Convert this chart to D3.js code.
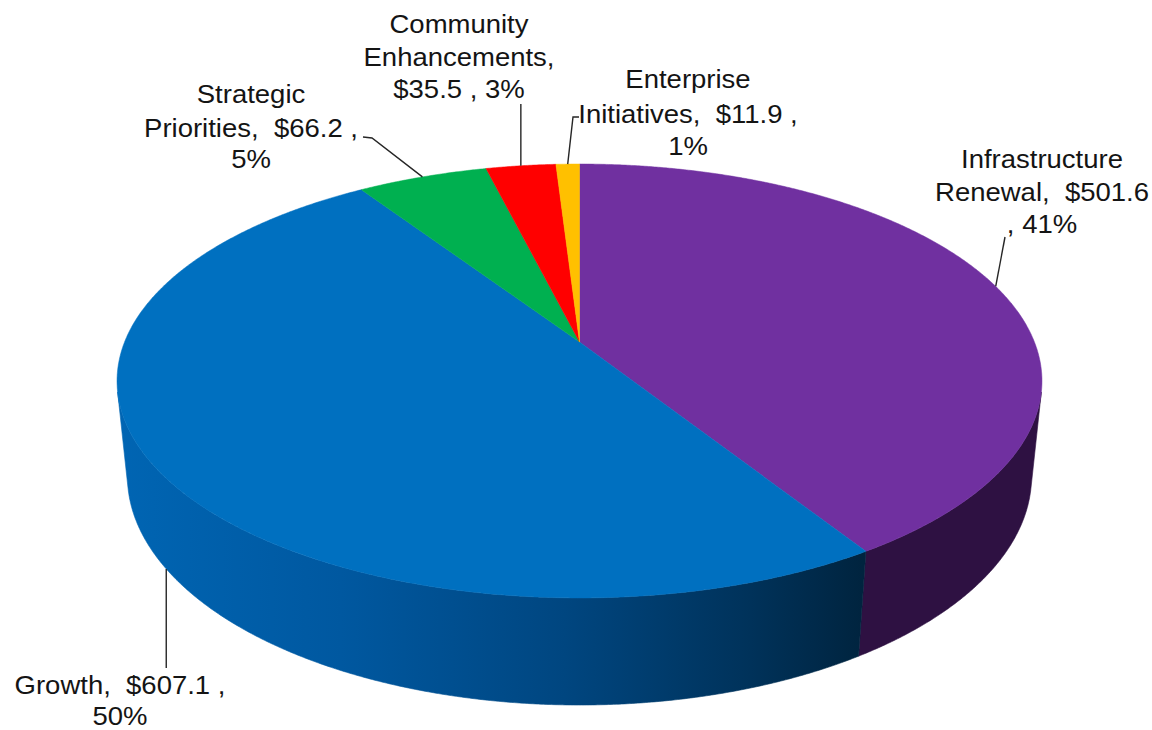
<!DOCTYPE html>
<html>
<head>
<meta charset="utf-8">
<script src="https://cdn.jsdelivr.net/npm/d3@7"></script>
<style>
  html, body { margin: 0; background: #ffffff; }
  svg { display: block; }
  text { white-space: pre; }
</style>
</head>
<body>
<svg id="chart" width="1152" height="730"></svg>
<script>
// Capital budget by program ($ millions)
const categories = ["Infrastructure Renewal", "Growth", "Strategic Priorities", "Community Enhancements", "Enterprise Initiatives"];
const values = [501.6, 607.1, 66.2, 35.5, 11.9];
const topColors = ["#7030A0", "#0070C0", "#00B050", "#FF0000", "#FFC000"];
const sideColors = ["#2E1142", "url(#growthSide)", "#00703A", "#A00000", "#A07800"];

const total = d3.sum(values);
const pct = d3.format(".0%");
const money = v => "$" + d3.format(".1f")(v);

// Label text, wrapped line by line
const labelText = [
  i => ["Infrastructure", `Renewal,  ${money(values[i])}`, `, ${pct(values[i] / total)}`],
  i => [`Growth,  ${money(values[i])} ,`, pct(values[i] / total)],
  i => ["Strategic", `Priorities,  ${money(values[i])} ,`, pct(values[i] / total)],
  i => ["Community", "Enhancements,", `${money(values[i])} , ${pct(values[i] / total)}`],
  i => ["Enterprise", `Initiatives,  ${money(values[i])} ,`, pct(values[i] / total)]
];

// Label placement: centre x, baselines, leader bend points; anchor on top rim or bottom rim
const labelLayout = [
  { cx: 1042, ys: [168, 201, 233], bends: [[1005, 237]], rim: "top" },
  { cx: 120,  ys: [694, 725],      bends: "vertical", startY: 668, rim: "bottom" },
  { cx: 251,  ys: [103, 137, 168], bends: [[363, 137], [372, 138]], rim: "top" },
  { cx: 459,  ys: [33, 65.5, 98],  bends: "vertical", startY: 104, rim: "top" },
  { cx: 688,  ys: [88, 123, 155],  bends: [[579, 117], [573, 117]], rim: "top" }
];

// Perspective camera for a tilted cylinder (unit radius, thickness h)
const cam = { cx: 579.5, cy: 342, f: 2246, D: 4.937, tilt: Math.asin(0.4615), h: 0.2376 };
const sT = Math.sin(cam.tilt), cT = Math.cos(cam.tilt);

function project(theta, yw) {
  const x = Math.sin(theta), z = -Math.cos(theta);
  const up = yw * cT - z * sT;
  const depth = cam.D - (yw * sT + z * cT);
  return [cam.cx + cam.f * x / depth, cam.cy - cam.f * up / depth];
}
function projectCenter(yw) {
  const up = yw * cT;
  const depth = cam.D - yw * sT;
  return [cam.cx, cam.cy - cam.f * up / depth];
}

const pie = d3.pie().sort(null).startAngle(0).endAngle(2 * Math.PI);
const arcs = pie(values);

const svg = d3.select("#chart");
const defs = svg.append("defs");
const grad = defs.append("linearGradient")
  .attr("id", "growthSide")
  .attr("gradientUnits", "userSpaceOnUse")
  .attr("x1", 118).attr("y1", 0).attr("x2", 862).attr("y2", 0);
[[0, "#0065B3"], [0.3, "#0058A0"], [0.6, "#004680"], [0.85, "#00325A"], [1, "#00243F"]]
  .forEach(([o, c]) => grad.append("stop").attr("offset", o).attr("stop-color", c));

const line = d3.line();
function sampleArc(a0, a1, yw) {
  const n = Math.max(2, Math.ceil((a1 - a0) / 0.005));
  return d3.range(n + 1).map(k => project(a0 + (a1 - a0) * k / n, yw));
}

// Visible part of the cylinder wall
const thetaR = Math.acos(-1 / (cam.D * cT));
const thetaL = 2 * Math.PI - thetaR;

const sides = svg.append("g");
arcs.forEach((a, i) => {
  const a0 = Math.max(a.startAngle, thetaR), a1 = Math.min(a.endAngle, thetaL);
  if (a1 <= a0) return;
  const topPts = sampleArc(a0, a1, 0);
  const botPts = sampleArc(a0, a1, -cam.h).reverse();
  sides.append("path")
    .attr("d", line(topPts.concat(botPts)) + "Z")
    .attr("fill", sideColors[i])
    .attr("stroke", sideColors[i])
    .attr("stroke-width", 0.6);
});

const tops = svg.append("g");
arcs.forEach((a, i) => {
  const pts = [projectCenter(0)].concat(sampleArc(a.startAngle, a.endAngle, 0));
  tops.append("path")
    .attr("d", line(pts) + "Z")
    .attr("fill", topColors[i])
    .attr("stroke", topColors[i])
    .attr("stroke-width", 0.5)
    .attr("stroke-linejoin", "round");
});

// Leader lines
const leaders = svg.append("g")
  .attr("fill", "none")
  .attr("stroke", "#262626")
  .attr("stroke-width", 1.4);
arcs.forEach((a, i) => {
  const L = labelLayout[i];
  const mid = (a.startAngle + a.endAngle) / 2;
  const anchor = project(mid, L.rim === "top" ? 0 : -cam.h);
  const pts = L.bends === "vertical"
    ? [[anchor[0], L.startY], anchor]
    : L.bends.concat([anchor]);
  leaders.append("path").attr("d", line(pts));
});

// Data labels
const labels = svg.append("g")
  .attr("font-family", "'Liberation Sans', Arial, sans-serif")
  .attr("font-size", 25)
  .attr("fill", "#141414")
  .attr("text-anchor", "middle");
arcs.forEach((a, i) => {
  const L = labelLayout[i];
  labelText[i](i).forEach((t, k) => {
    labels.append("text")
      .attr("xml:space", "preserve")
      .attr("transform", `translate(${L.cx},${L.ys[k]}) scale(1.1,1)`)
      .text(t);
  });
});
</script>
</body>
</html>
